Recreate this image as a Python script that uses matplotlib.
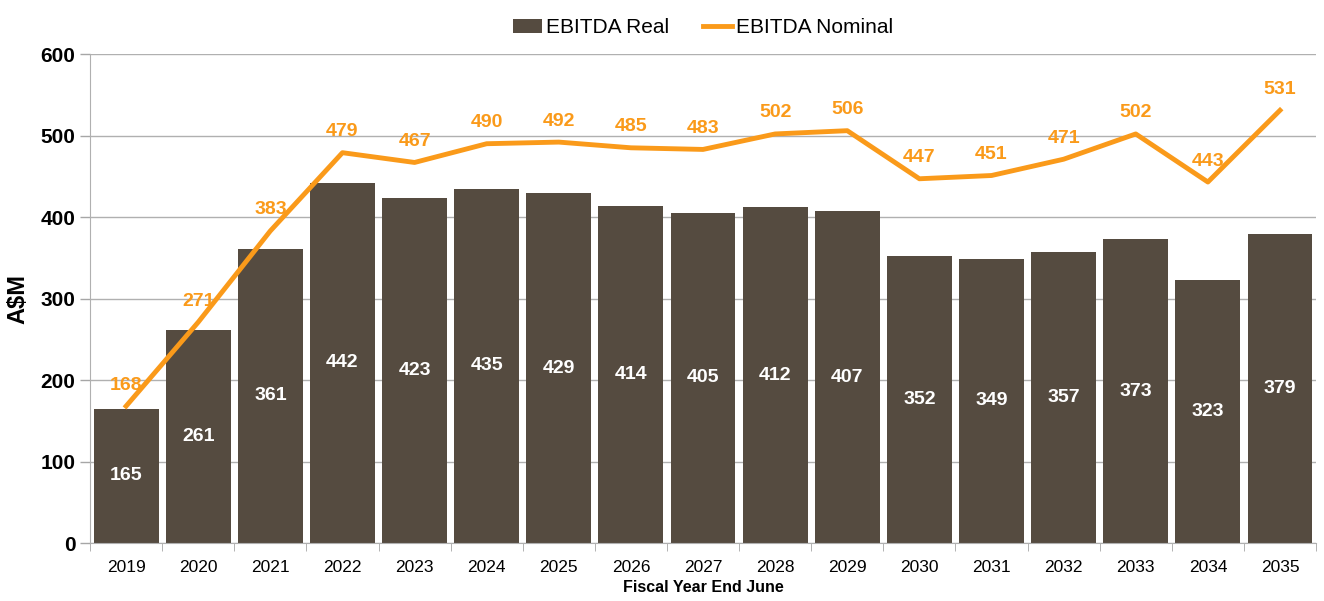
import matplotlib
matplotlib.use("Agg")
from matplotlib import pyplot as plt
import numpy as np

years = ["2019", "2020", "2021", "2022", "2023", "2024", "2025", "2026", "2027",
         "2028", "2029", "2030", "2031", "2032", "2033", "2034", "2035"]
ebitda_real = [165, 261, 361, 442, 423, 435, 429, 414, 405, 412, 407, 352, 349, 357, 373, 323, 379]
ebitda_nominal = [168, 271, 383, 479, 467, 490, 492, 485, 483, 502, 506, 447, 451, 471, 502, 443, 531]

plt.rcParams["font.family"] = ["Liberation Sans", "DejaVu Sans"]

bar_col = "#554b40"
line_col = "#fa9a1a"

fig = plt.figure(figsize=(13.24, 6.01), dpi=100)
ax = fig.add_axes([0.068, 0.0965, 0.926, 0.8135])

x = np.arange(len(years))
bars = ax.bar(x, ebitda_real, width=0.9, color=bar_col, label="EBITDA Real", zorder=2)
line, = ax.plot(x, ebitda_nominal, color=line_col, lw=3.5, label="EBITDA Nominal", zorder=3)

for xi, v in zip(x, ebitda_real):
    ax.text(xi, v / 2, str(v), ha="center", va="center", color="white",
            fontsize=14, fontweight="bold", zorder=4)
for xi, v in zip(x, ebitda_nominal):
    ax.annotate(str(v), (xi, v), xytext=(0, 9), textcoords="offset points",
                ha="center", va="bottom", color=line_col, fontsize=14,
                fontweight="bold", zorder=4)

ax.set_xlim(-0.5, len(years) - 0.5)
ax.set_ylim(0, 600)
ax.set_yticks(range(0, 601, 100))
ax.tick_params(axis="y", labelsize=15, length=7, color="#a6a6a6", width=1)
for t in ax.get_yticklabels():
    t.set_fontweight("bold")
ax.set_xticks(x)
ax.set_xticklabels(years, fontsize=12.5)
ax.set_xticks(np.arange(-0.5, len(years), 1), minor=True)
ax.tick_params(axis="x", which="major", length=0, pad=12)
ax.tick_params(axis="x", which="minor", length=6, color="#a6a6a6")

ax.grid(axis="y", color="#b0b0b0", lw=1, zorder=0)
ax.set_axisbelow(True)
for s in ["top", "right"]:
    ax.spines[s].set_visible(False)
ax.spines["left"].set_color("#b0b0b0")
ax.spines["bottom"].set_color("#b0b0b0")

ax.set_ylabel("A$M", fontsize=17, fontweight="bold", labelpad=8)
ax.set_xlabel("Fiscal Year End June", fontsize=11.5, fontweight="bold", labelpad=4)

ax.legend([bars, line], ["EBITDA Real", "EBITDA Nominal"], loc="lower center",
          bbox_to_anchor=(0.5, 1.0), ncol=2, frameon=False,
          fontsize=15, handlelength=1.4, handletextpad=0.2, columnspacing=1.6,
          borderaxespad=0.4)

fig.savefig("out.png", dpi=100)
